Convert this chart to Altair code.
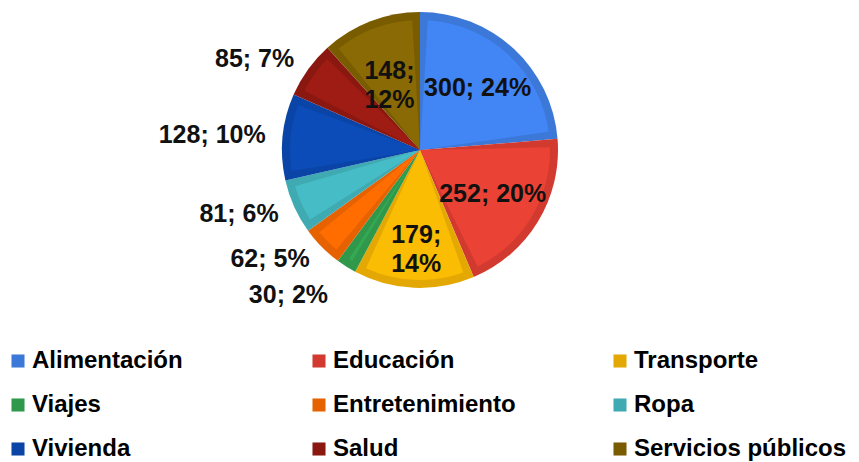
import altair as alt
import pandas as pd

categories = ["Alimentación", "Educación", "Transporte", "Viajes", "Entretenimiento",
              "Ropa", "Vivienda", "Salud", "Servicios públicos"]
values = [300, 252, 179, 30, 62, 81, 128, 85, 148]
border_colors = ["#3c78d8", "#d33a2f", "#e3a803", "#2f984b", "#e66200",
                 "#3faab2", "#0a44a6", "#8b1810", "#7a5c00"]
fill_colors = ["#4285f4", "#ea4335", "#fbbc04", "#34a853", "#ff6d01",
               "#46bdc6", "#0c4cb8", "#9e1c13", "#8a6a04"]

total = sum(values)
rows = []
for i, (c, v) in enumerate(zip(categories, values)):
    pct = round(100 * v / total)
    inside = pct >= 12
    tiny = pct < 3
    sep = ";\n" if (inside and pct < 15) else "; "
    lab = f"{v}{sep}{pct}%"
    rows.append({"cat": c, "value": v, "idx": i,
                 "fill": fill_colors[i],
                 "in_label": lab if inside else "",
                 "out_label": lab if (not inside and not tiny) else "",
                 "far_label": lab if tiny else ""})
df = pd.DataFrame(rows)

CX, CY = 412, 142
FONT = "Liberation Sans"

base = alt.Chart(df).encode(
    theta=alt.Theta("value:Q", stack=True),
    order=alt.Order("idx:Q"),
    x=alt.value(CX), y=alt.value(CY),
)

outer = base.mark_arc(radius=138).encode(
    color=alt.Color("cat:N", scale=alt.Scale(domain=categories, range=border_colors),
                    sort=categories,
                    legend=alt.Legend(title=None, orient="none", legendX=-2, legendY=341,
                                      direction="horizontal",
                                      columns=3, gridAlign="all", columnPadding=62,
                                      rowPadding=20, symbolType="square", symbolSize=170,
                                      symbolStrokeWidth=0, labelFont=FONT, labelFontSize=24,
                                      labelFontWeight="bold", labelColor="#000000",
                                      labelOffset=2, padding=0, labelLimit=400))
)

inner = base.mark_arc(radius=130, padAngle=0.12).encode(
    fill=alt.Fill("fill:N", scale=None)
)

in_text = base.mark_text(radius=85, font=FONT, fontSize=25, fontWeight="bold",
                         color="#111111", lineBreak="\n", lineHeight=29,
                         align="center", baseline="middle").encode(
    text="in_label:N"
)

out_text = base.mark_text(radius=155, font=FONT, fontSize=25, fontWeight="bold",
                          color="#111111", align="right", baseline="middle").encode(
    text="out_label:N"
)

far_text = base.mark_text(radius=172, font=FONT, fontSize=25, fontWeight="bold",
                          color="#111111", align="right", baseline="middle").encode(
    text="far_label:N"
)

chart = alt.layer(outer, inner, in_text, out_text, far_text).properties(
    width=843, height=454, autosize=alt.AutoSizeParams(type="none"), padding=0
).configure_view(stroke=None)

chart.save("out.html", embed_options={"renderer": "svg", "actions": False})
